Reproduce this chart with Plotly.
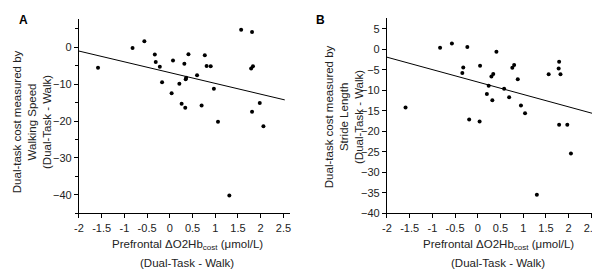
import plotly.graph_objects as go

# Panel A: walking speed
a_x = [-1.58, -0.82, -0.56, -0.33, -0.31, -0.22, -0.17, 0.04, 0.07, 0.21, 0.26, 0.32, 0.34, 0.35, 0.36,
       0.41, 0.60, 0.70, 0.77, 0.81, 0.90, 0.97, 1.06, 1.57, 1.81, 1.79, 1.83, 1.81, 1.98, 2.06, 1.31]
a_y = [-5.6, -0.2, 1.6, -2.0, -4.0, -5.3, -9.5, -12.5, -3.6, -9.9, -15.3, -4.5, -16.4, -8.7, -8.3,
       -1.9, -7.6, -15.8, -2.2, -5.1, -5.2, -11.3, -20.2, 4.7, 4.1, -5.8, -5.2, -17.5, -15.1, -21.4, -40.2]
a_slope, a_intercept = -2.92, -6.9
a_fit_x = [-2.0, 2.53]

# Panel B: stride length
b_x = [-1.59, -0.83, -0.57, -0.23, -0.34, -0.32, -0.19, 0.05, 0.04, 0.20, 0.24, 0.30, 0.34, 0.32, 0.41,
       0.58, 0.69, 0.76, 0.80, 0.88, 0.95, 1.04, 1.56, 1.79, 1.78, 1.82, 1.79, 1.97, 1.30, 2.05]
b_y = [-14.2, 0.4, 1.4, 0.55, -5.8, -4.4, -17.1, -4.0, -17.6, -10.9, -8.9, -6.6, -6.0, -12.4, -0.6,
       -9.6, -11.7, -4.5, -3.8, -7.3, -13.7, -15.6, -6.1, -3.0, -4.7, -6.1, -18.4, -18.4, -35.5, -25.4]
b_slope, b_intercept = -3.03, -7.97
b_fit_x = [-2.02, 2.52]

x_ticks = [-2, -1.5, -1, -0.5, 0, 0.5, 1, 1.5, 2, 2.5]
x_ticklabels = ["-2", "-1.5", "-1", "-0.5", "0", "0.5", "1", "1.5", "2", "2.5"]
a_yticks = [0, -10, -20, -30, -40]
b_yticks = [5, 0, -5, -10, -15, -20, -25, -30, -35, -40]

FONT = "Liberation Sans, Arial, sans-serif"
fig = go.Figure()

fig.add_trace(go.Scatter(x=a_x, y=a_y, mode="markers", marker=dict(color="black", size=4),
                         xaxis="x", yaxis="y", showlegend=False))
fig.add_trace(go.Scatter(x=a_fit_x, y=[a_slope * v + a_intercept for v in a_fit_x], mode="lines",
                         line=dict(color="black", width=1), xaxis="x", yaxis="y", showlegend=False))
fig.add_trace(go.Scatter(x=b_x, y=b_y, mode="markers", marker=dict(color="black", size=4),
                         xaxis="x2", yaxis="y2", showlegend=False))
fig.add_trace(go.Scatter(x=b_fit_x, y=[b_slope * v + b_intercept for v in b_fit_x], mode="lines",
                         line=dict(color="black", width=1), xaxis="x2", yaxis="y2", showlegend=False))

axis_common = dict(showline=True, linecolor="black", linewidth=1, ticks="outside", ticklen=4,
                   tickcolor="black", showgrid=False, zeroline=False,
                   tickfont=dict(family=FONT, size=11, color="#222"))

fig.update_layout(
    width=600, height=269, margin=dict(l=0, r=0, t=0, b=0),
    plot_bgcolor="white", paper_bgcolor="white",
    xaxis=dict(domain=[0.111, 0.4667], range=[-2, 2.65], tickvals=x_ticks, ticktext=x_ticklabels,
               anchor="y", **axis_common),
    yaxis=dict(domain=[0.2193, 0.9565], range=[-45, 7.5], tickvals=a_yticks,
               minor=dict(dtick=5, ticks="outside", ticklen=3, tickcolor="black"),
               anchor="x", **axis_common),
    xaxis2=dict(domain=[0.6295, 0.989], range=[-2, 2.7], tickvals=x_ticks, ticktext=x_ticklabels,
                anchor="y2", **axis_common),
    yaxis2=dict(domain=[0.2193, 0.9628], range=[-40, 7.7], tickvals=b_yticks,
                anchor="x2", **axis_common),
)

ann_font = dict(family=FONT, size=11.5, color="#222")
anns = [
    dict(text="<b>A</b>", x=4, y=3, font=dict(family=FONT, size=12, color="black")),
    dict(text="<b>B</b>", x=304, y=3, font=dict(family=FONT, size=12, color="black")),
]
for a in anns:
    fig.add_annotation(text=a["text"], xref="paper", yref="paper", x=a["x"] / 600, y=1 - a["y"] / 269,
                       xanchor="left", yanchor="top", showarrow=False, font=a["font"])

# y titles
for xc, yc, txt in [(20, 116, "Dual-task cost measured by<br>Walking Speed<br>(Dual-Task - Walk)"),
                    (334, 111, "Dual-task cost measured by<br>Stride Length<br>(Dual-Task - Walk)")]:
    fig.add_annotation(text=txt, xref="paper", yref="paper", x=xc / 600, y=1 - yc / 269,
                       xanchor="center", yanchor="middle", textangle=-90, showarrow=False,
                       font=ann_font, align="center")

# x titles
for xc in [176, 490]:
    fig.add_annotation(text="Prefrontal ΔO2Hb<sub>cost</sub> (μmol/L)", xref="paper", yref="paper",
                       x=xc / 600, y=1 - 242 / 269, xanchor="center", yanchor="middle",
                       showarrow=False, font=ann_font)
    fig.add_annotation(text="(Dual-Task - Walk)", xref="paper", yref="paper",
                       x=xc / 600, y=1 - 261 / 269, xanchor="center", yanchor="middle",
                       showarrow=False, font=ann_font)

fig.write_html("out.html")
